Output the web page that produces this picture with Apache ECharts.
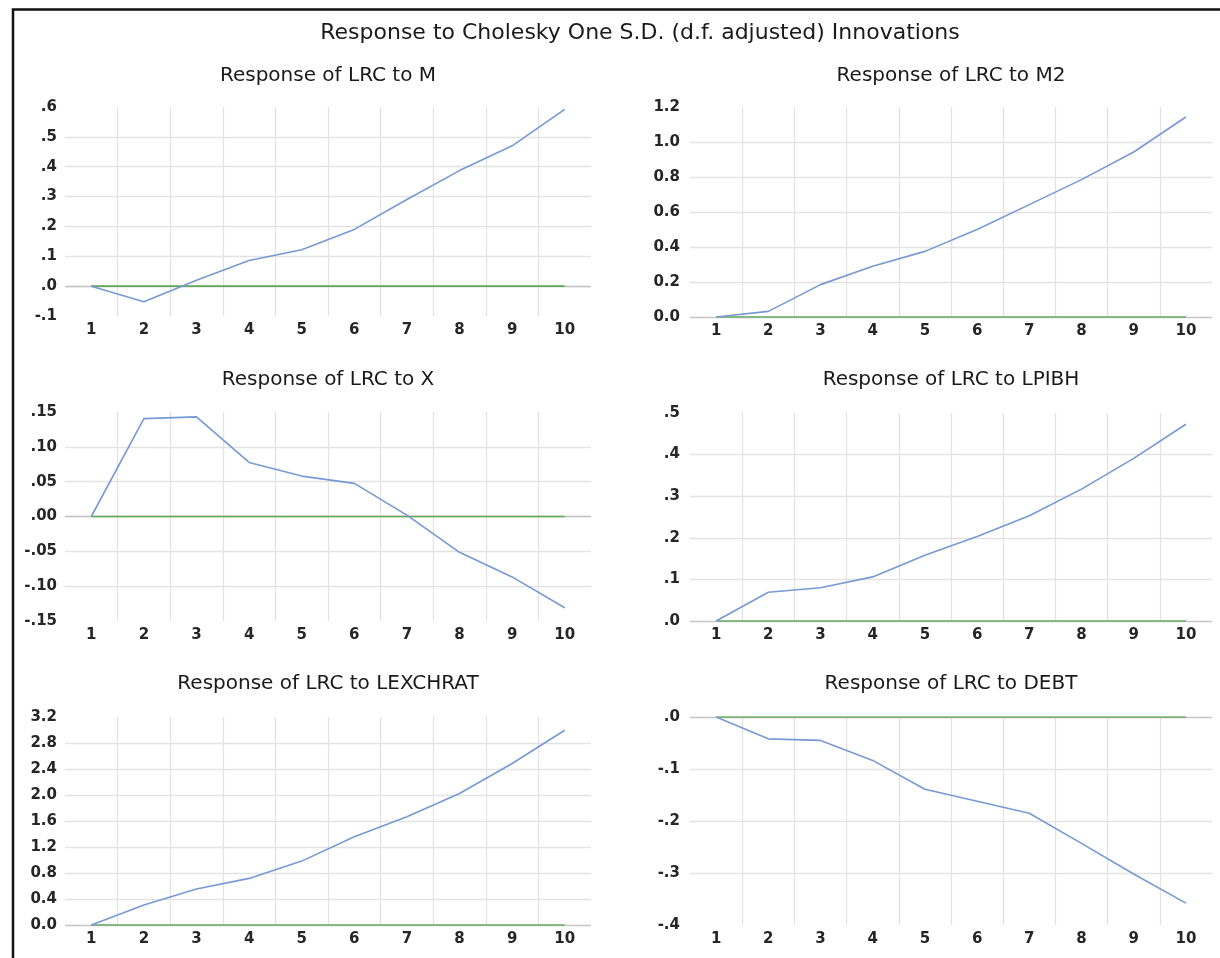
<!DOCTYPE html>
<html>
<head>
<meta charset="utf-8">
<script src="https://cdn.jsdelivr.net/npm/echarts@6/dist/echarts.min.js"></script>
<style>
  html, body { margin: 0; padding: 0; background: #fff; }
  #chart { width: 1220px; height: 958px; }
</style>
</head>
<body>
<div id="chart"></div>
<script>
// ---- data ----
const categories = ['1', '2', '3', '4', '5', '6', '7', '8', '9', '10'];
const mainTitle = 'Response to Cholesky One S.D. (d.f. adjusted) Innovations';

const respM        = [0, -0.052, 0.020, 0.086, 0.122, 0.190, 0.290, 0.387, 0.470, 0.592];
const respM2       = [0, 0.032, 0.185, 0.290, 0.375, 0.500, 0.642, 0.785, 0.943, 1.143];
const respX        = [0, 0.1405, 0.143, 0.0776, 0.058, 0.0476, 0.002, -0.0514, -0.0867, -0.131];
const respLPIBH    = [0, 0.069, 0.080, 0.106, 0.158, 0.203, 0.253, 0.317, 0.391, 0.473];
const respLEXCHRAT = [0, 0.307, 0.553, 0.717, 0.983, 1.357, 1.664, 2.023, 2.484, 2.996];
const respDEBT     = [0, -0.042, -0.045, -0.0835, -0.139, -0.162, -0.185, -0.243, -0.302, -0.358];
const zeroLine     = [0, 0, 0, 0, 0, 0, 0, 0, 0, 0];

const ticksM        = ['-.1', '.0', '.1', '.2', '.3', '.4', '.5', '.6'];
const ticksM2       = ['0.0', '0.2', '0.4', '0.6', '0.8', '1.0', '1.2'];
const ticksX        = ['-.15', '-.10', '-.05', '.00', '.05', '.10', '.15'];
const ticksLPIBH    = ['.0', '.1', '.2', '.3', '.4', '.5'];
const ticksLEXCHRAT = ['0.0', '0.4', '0.8', '1.2', '1.6', '2.0', '2.4', '2.8', '3.2'];
const ticksDEBT     = ['-.4', '-.3', '-.2', '-.1', '.0'];

const panelTitles = ['Response of LRC to M', 'Response of LRC to M2', 'Response of LRC to X',
                     'Response of LRC to LPIBH', 'Response of LRC to LEXCHRAT', 'Response of LRC to DEBT'];

// ---- panel configuration ----
const panels = [
  { title: panelTitles[0], data: respM,        ticks: ticksM,        min: -0.1,  max: 0.6,  interval: 0.1 },
  { title: panelTitles[1], data: respM2,       ticks: ticksM2,       min: 0,     max: 1.2,  interval: 0.2 },
  { title: panelTitles[2], data: respX,        ticks: ticksX,        min: -0.15, max: 0.15, interval: 0.05 },
  { title: panelTitles[3], data: respLPIBH,    ticks: ticksLPIBH,    min: 0,     max: 0.5,  interval: 0.1 },
  { title: panelTitles[4], data: respLEXCHRAT, ticks: ticksLEXCHRAT, min: 0,     max: 3.2,  interval: 0.4 },
  { title: panelTitles[5], data: respDEBT,     ticks: ticksDEBT,     min: -0.4,  max: 0,    interval: 0.1 }
];

const layouts = [
  { left: 65,  top: 107, width: 526, height: 209, titleY: 76,  labelMargin: 8 },
  { left: 690, top: 107, width: 522, height: 210, titleY: 76,  labelMargin: 10 },
  { left: 65,  top: 412, width: 526, height: 209, titleY: 380, labelMargin: 8 },
  { left: 690, top: 413, width: 522, height: 208, titleY: 380, labelMargin: 10 },
  { left: 65,  top: 717, width: 526, height: 208, titleY: 684, labelMargin: 8 },
  { left: 690, top: 717, width: 522, height: 208, titleY: 684, labelMargin: 10 }
];

const FONT = 'DejaVu Sans';
const labelStyle = { fontFamily: FONT, fontSize: 15, fontWeight: 'bold', color: '#262626' };
const gridColor = '#e3e3e3';
const blue = '#7799d4';
const green = '#5fa95a';

const option = {
  animation: false,
  backgroundColor: '#ffffff',
  title: [],
  grid: [],
  xAxis: [],
  yAxis: [],
  series: [],
  graphic: [{
    type: 'rect',
    shape: { x: 13, y: 9.5, width: 1240, height: 980 },
    style: { fill: 'none', stroke: '#111', lineWidth: 2.5 },
    silent: true
  }]
};

option.title.push({
  text: mainTitle,
  left: 640, top: 33, padding: 0,
  textAlign: 'center', textVerticalAlign: 'middle',
  textStyle: { fontFamily: FONT, fontSize: 22, fontWeight: 'normal', color: '#1a1a1a' }
});

panels.forEach((p, i) => {
  const L = layouts[i];
  option.title.push({
    text: p.title,
    left: L.left + L.width / 2, top: L.titleY, padding: 0,
    textAlign: 'center', textVerticalAlign: 'middle',
    textStyle: { fontFamily: FONT, fontSize: 20, fontWeight: 'normal', color: '#1a1a1a' }
  });
  option.grid.push({ left: L.left, top: L.top, width: L.width, height: L.height, containLabel: false });
  option.xAxis.push({
    type: 'category', gridIndex: i, data: categories, boundaryGap: true,
    position: 'bottom',
    axisLine: { show: false, onZero: false },
    axisTick: { show: false },
    axisLabel: Object.assign({ margin: 7, interval: 0 }, labelStyle),
    splitLine: { show: true, showMinLine: false, showMaxLine: false,
                 lineStyle: { color: gridColor, width: 1.3 } }
  });
  option.yAxis.push({
    type: 'value', gridIndex: i, min: p.min, max: p.max, interval: p.interval,
    axisLine: { show: false }, axisTick: { show: false },
    axisLabel: Object.assign({
      margin: L.labelMargin,
      formatter: (v) => p.ticks[Math.round((v - p.min) / p.interval)]
    }, labelStyle),
    splitLine: { show: true, showMinLine: false, showMaxLine: false,
                 lineStyle: { color: gridColor, width: 1.3 } }
  });
  option.series.push({
    type: 'line', xAxisIndex: i, yAxisIndex: i, data: zeroLine,
    showSymbol: false, silent: true, z: 3,
    lineStyle: { color: green, width: 1.6 },
    markLine: {
      silent: true, symbol: 'none', label: { show: false },
      lineStyle: { color: '#c4c4c4', width: 1.3, type: 'solid' },
      data: [{ yAxis: 0 }], z: 1
    }
  });
  option.series.push({
    type: 'line', xAxisIndex: i, yAxisIndex: i, data: p.data,
    showSymbol: false, silent: true, z: 4,
    lineStyle: { color: blue, width: 1.6 }
  });
});

const chart = echarts.init(document.getElementById('chart'), null, { renderer: 'canvas' });
chart.setOption(option);
</script>
</body>
</html>
